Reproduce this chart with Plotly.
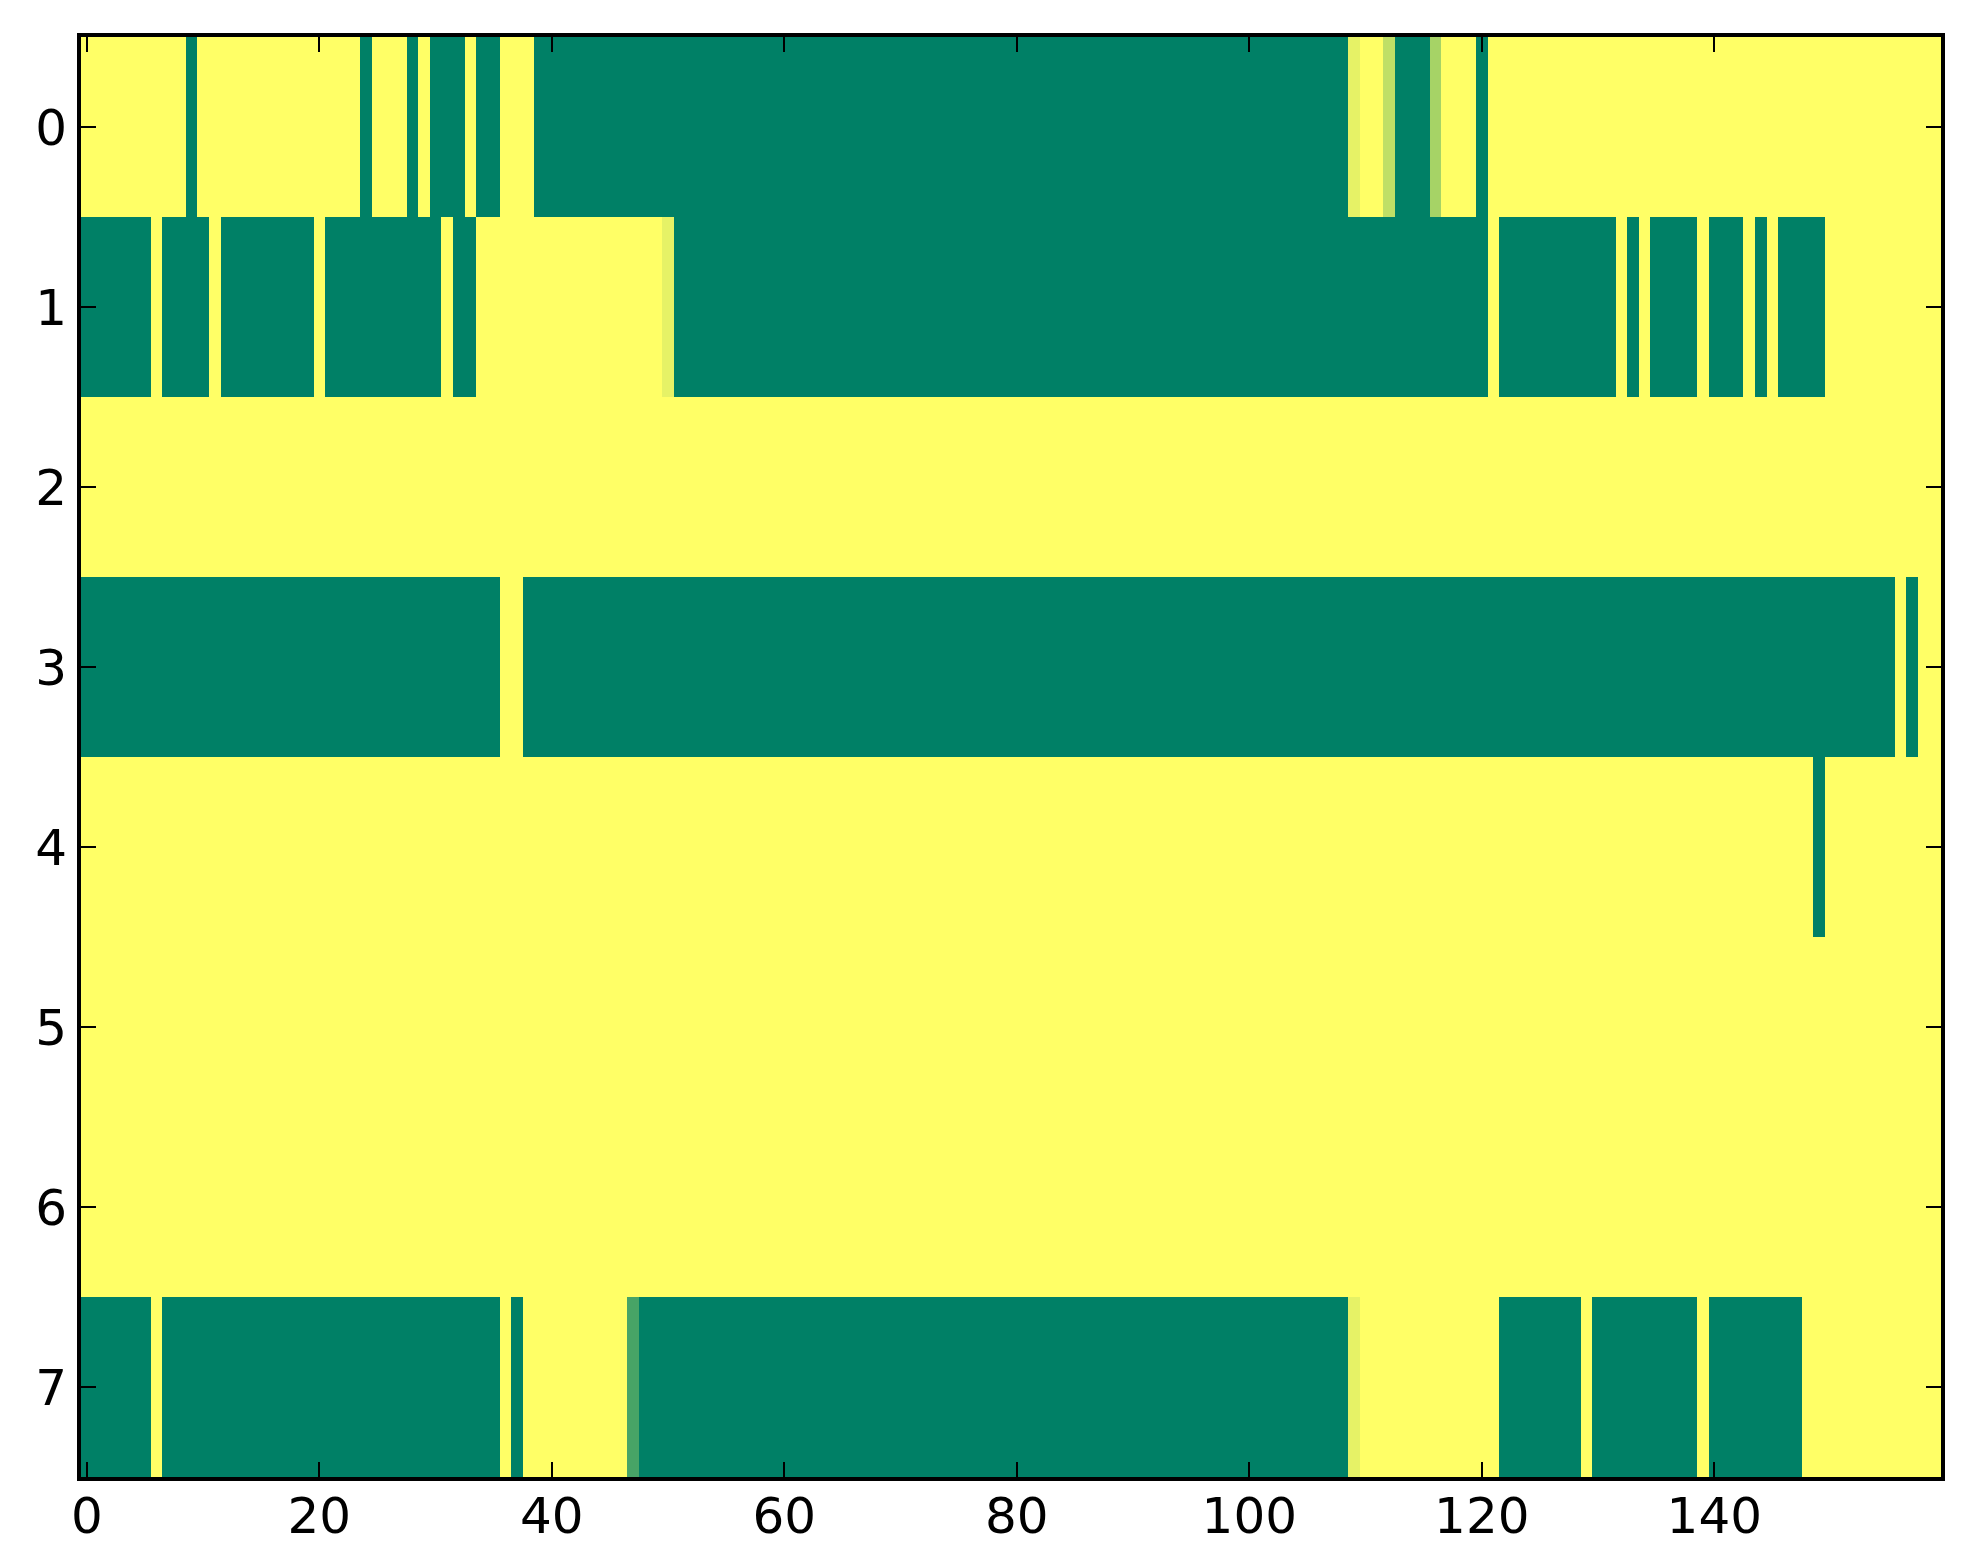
import numpy as np
import plotly.graph_objects as go

# run-length rows: (value, count); 1 = yellow end of "summer", 0 = green end
row0 = [(1, 9), (0, 1), (1, 14), (0, 1), (1, 3), (0, 1), (1, 1), (0, 3), (1, 1), (0, 2),
        (1, 3), (0, 70), (0.9, 1), (1, 2), (0.75, 1), (0, 3), (0.65, 1), (1, 3), (0, 1), (1, 39)]
row1 = [(0, 6), (1, 1), (0, 4), (1, 1), (0, 8), (1, 1), (0, 10), (1, 1), (0, 2), (1, 16),
        (0.9, 1), (0, 70), (1, 1), (0, 10), (1, 1), (0, 1), (1, 1), (0, 4), (1, 1), (0, 3),
        (1, 1), (0, 1), (1, 1), (0, 4), (1, 10)]
row2 = [(1, 160)]
row3 = [(0, 36), (1, 2), (0, 118), (1, 1), (0, 1), (1, 2)]
row4 = [(1, 149), (0, 1), (1, 10)]
row5 = [(1, 160)]
row6 = [(1, 160)]
row7 = [(0, 6), (1, 1), (0, 29), (1, 1), (0, 1), (1, 9), (0.28, 1), (0, 61), (0.9, 1), (1, 12),
        (0, 7), (1, 1), (0, 9), (1, 1), (0, 8), (1, 12)]

rows = [row0, row1, row2, row3, row4, row5, row6, row7]
x_ticks = [0, 20, 40, 60, 80, 100, 120, 140]
y_ticks = [0, 1, 2, 3, 4, 5, 6, 7]


def expand(runs):
    out = []
    for v, n in runs:
        out += [v] * n
    return out


z = np.array([expand(r) for r in rows])
ncols = z.shape[1]

summer = [[0.0, "#008066"], [1.0, "#ffff66"]]

fig = go.Figure(go.Heatmap(
    z=z,
    x=np.arange(ncols),
    y=np.arange(len(rows)),
    colorscale=summer,
    zmin=0, zmax=1,
    showscale=False,
    hoverinfo="skip",
))

axis_style = dict(
    showline=True, linecolor="black", linewidth=4, mirror="ticks",
    ticks="inside", ticklen=15, tickwidth=2, tickcolor="black",
    showgrid=False, zeroline=False,
    tickfont=dict(family="DejaVu Sans", size=50, color="black"),
)

fig.update_xaxes(range=[-0.5, ncols - 0.5], tickvals=x_ticks,
                 ticklabelstandoff=-8, **axis_style)
fig.update_yaxes(range=[len(rows) - 0.5, -0.5], tickvals=y_ticks, **axis_style)

fig.update_layout(
    width=1963, height=1564,
    margin=dict(l=73, r=30, t=29, b=95),
    paper_bgcolor="white", plot_bgcolor="white",
)

fig.write_html("out.html")
